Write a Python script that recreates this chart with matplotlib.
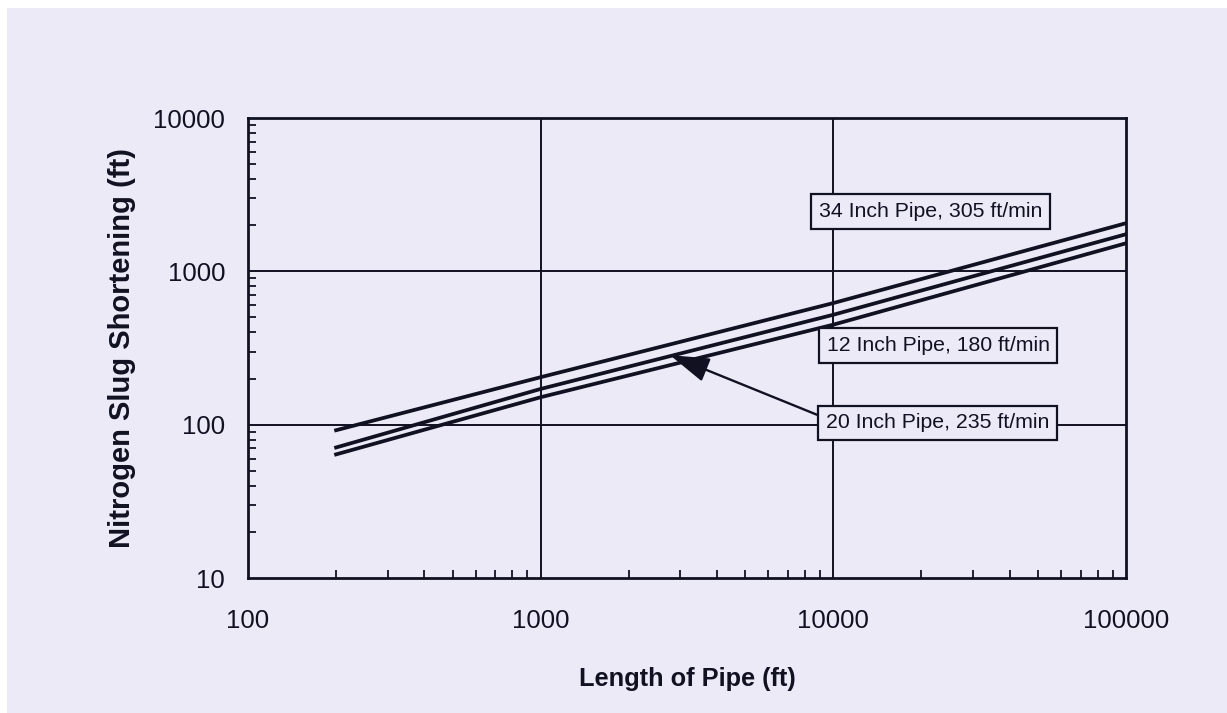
import matplotlib
matplotlib.use("Agg")
import matplotlib.pyplot as plt
from matplotlib.ticker import LogLocator, NullFormatter, FixedLocator
from matplotlib.patches import Rectangle

# ---- data ----
pipe_length = [200, 1000, 10000, 100000]
shortening_34in = [92, 204, 621, 2060]
shortening_20in = [71, 171, 521, 1746]
shortening_12in = [64, 151, 449, 1524]
label_34in = "34 Inch Pipe, 305 ft/min"
label_20in = "20 Inch Pipe, 235 ft/min"
label_12in = "12 Inch Pipe, 180 ft/min"
x_ticks = [100, 1000, 10000, 100000]
y_ticks = [10, 100, 1000, 10000]

plt.rcParams['font.family'] = ['Liberation Sans', 'DejaVu Sans']

W, H = 1227, 713
bg = '#eceaf7'
ink = '#111122'

fig = plt.figure(figsize=(W / 100, H / 100), dpi=100, facecolor='white')
fig.patches.append(Rectangle((7 / W, 0), 1 - 7 / W, 1 - 8 / H, transform=fig.transFigure,
                             facecolor=bg, edgecolor='none', zorder=-10))

ax = fig.add_axes([248 / W, (H - 578) / H, (1126 - 248) / W, (578 - 118) / H])
ax.set_facecolor(bg)
ax.set_xscale('log')
ax.set_yscale('log')
ax.set_xlim(100, 100000)
ax.set_ylim(10, 10000)

for s in ax.spines.values():
    s.set_color(ink)
    s.set_linewidth(2.0)

# grid at majors
for xv in x_ticks[1:-1]:
    ax.axvline(xv, color=ink, lw=1.4, zorder=1)
for yv in y_ticks[1:-1]:
    ax.axhline(yv, color=ink, lw=1.4, zorder=1)

ax.plot(pipe_length, shortening_34in, color=ink, lw=2.7, zorder=3)
ax.plot(pipe_length, shortening_20in, color=ink, lw=2.7, zorder=3)
ax.plot(pipe_length, shortening_12in, color=ink, lw=2.7, zorder=3)

ax.xaxis.set_major_locator(FixedLocator(x_ticks))
ax.yaxis.set_major_locator(FixedLocator(y_ticks))
ax.set_xticklabels([str(v) for v in x_ticks])
ax.set_yticklabels([str(v) for v in y_ticks])
ax.xaxis.set_minor_locator(LogLocator(base=10, subs=range(2, 10)))
ax.yaxis.set_minor_locator(LogLocator(base=10, subs=range(2, 10)))
ax.xaxis.set_minor_formatter(NullFormatter())
ax.yaxis.set_minor_formatter(NullFormatter())
ax.tick_params(which='major', length=0, labelsize=18.5, colors=ink, pad=22)
ax.tick_params(axis='y', which='major', pad=16.5)
ax.tick_params(which='minor', direction='in', length=6, width=1.3, color=ink)
ax.tick_params(top=False, right=False, which='both')

ax.set_xlabel("Length of Pipe (ft)", fontsize=18.3, fontweight='bold', color=ink, labelpad=25)
ax.set_ylabel("Nitrogen Slug Shortening (ft)", fontsize=21, fontweight='bold', color=ink, labelpad=12.5)

box = dict(boxstyle='square,pad=0.37', facecolor=bg, edgecolor=ink, lw=1.6)
ax.text(0.777, 0.796, label_34in, transform=ax.transAxes, ha='center', va='center',
        fontsize=15.3, color=ink, bbox=box, zorder=5)
ax.text(0.786, 0.506, label_12in, transform=ax.transAxes, ha='center', va='center',
        fontsize=15.3, color=ink, bbox=box, zorder=5)
ax.annotate(label_20in, xy=(2767, 284), xycoords='data',
            xytext=(0.785, 0.337), textcoords='axes fraction', ha='center', va='center',
            fontsize=15.3, color=ink, bbox=box, zorder=5,
            arrowprops=dict(arrowstyle='-|>,head_length=1.6,head_width=0.5', color=ink, lw=1.7,
                            relpos=(0, 0.75), shrinkA=0, shrinkB=0))

fig.savefig('out.png', dpi=100, facecolor='white')
